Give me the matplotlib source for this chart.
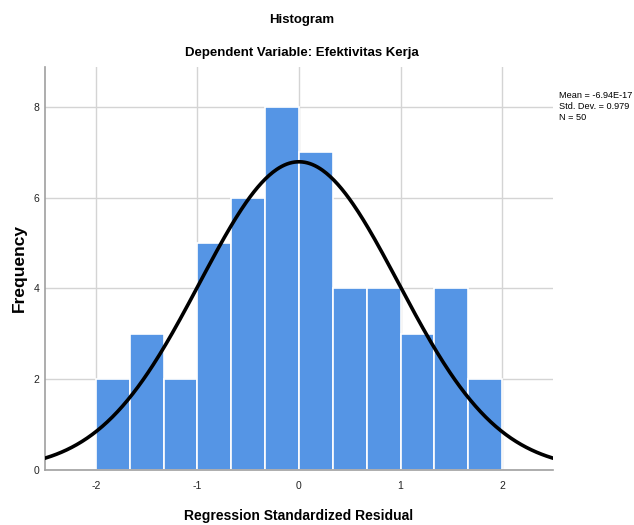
import numpy as np
import matplotlib.pyplot as plt

# histogram of standardized residuals
bin_edges = np.linspace(-2, 2, 13)
counts = [2, 3, 2, 5, 6, 8, 7, 4, 4, 3, 4, 2]
mean = -6.94e-17
std = 0.979
n = 50
xticks = [-2, -1, 0, 1, 2]
yticks = [0, 2, 4, 6, 8]

plt.rcParams['font.family'] = ['Liberation Sans', 'DejaVu Sans']
plt.rcParams['axes.unicode_minus'] = False

fig = plt.figure(figsize=(6.34, 5.25), dpi=100)
ax = fig.add_axes([45 / 634, 1 - 470 / 525, 508 / 634, 403 / 525])

width = bin_edges[1] - bin_edges[0]
ax.bar(bin_edges[:-1], counts, width=width, align='edge',
       color='#5595e5', edgecolor='white', linewidth=1.2, zorder=2)

xs = np.linspace(-2.5, 2.5, 400)
pdf = np.exp(-0.5 * ((xs - mean) / std) ** 2) / (std * np.sqrt(2 * np.pi))
ax.plot(xs, n * width * pdf, color='black', lw=2.6, zorder=3)

ax.set_xlim(-2.5, 2.5)
ax.set_ylim(0, 8.88)
ax.set_xticks(xticks)
ax.set_yticks(yticks)
ax.grid(True, color='#d4d4d4', lw=1, zorder=0)
ax.set_axisbelow(True)
for s in ['top', 'right']:
    ax.spines[s].set_visible(False)
for s in ['left', 'bottom']:
    ax.spines[s].set_color('#a0a0a0')
    ax.spines[s].set_linewidth(1.2)
ax.tick_params(length=0, labelsize=7.5, colors='#222222')
ax.tick_params(axis='x', pad=8)
ax.tick_params(axis='y', pad=4)

fig.text(299 / 634, 1 - 516 / 525, 'Regression Standardized Residual',
         ha='center', va='center', fontsize=10, fontweight='bold')
fig.text(19 / 634, 1 - 268 / 525, 'Frequency', rotation=90,
         ha='center', va='center', fontsize=12.5, fontweight='bold')

fig.text(302 / 634, 1 - 20 / 525, 'Histogram', ha='center', va='center',
         fontsize=9.5, fontweight='bold')
fig.text(302 / 634, 1 - 53 / 525, 'Dependent Variable: Efektivitas Kerja',
         ha='center', va='center', fontsize=9.5, fontweight='bold')
fig.text(559 / 634, 1 - 91 / 525,
         f'Mean = -6.94E-17\nStd. Dev. = {std}\nN = {n}',
         ha='left', va='top', fontsize=6.6, linespacing=1.3)

fig.savefig('out.png', dpi=100)
